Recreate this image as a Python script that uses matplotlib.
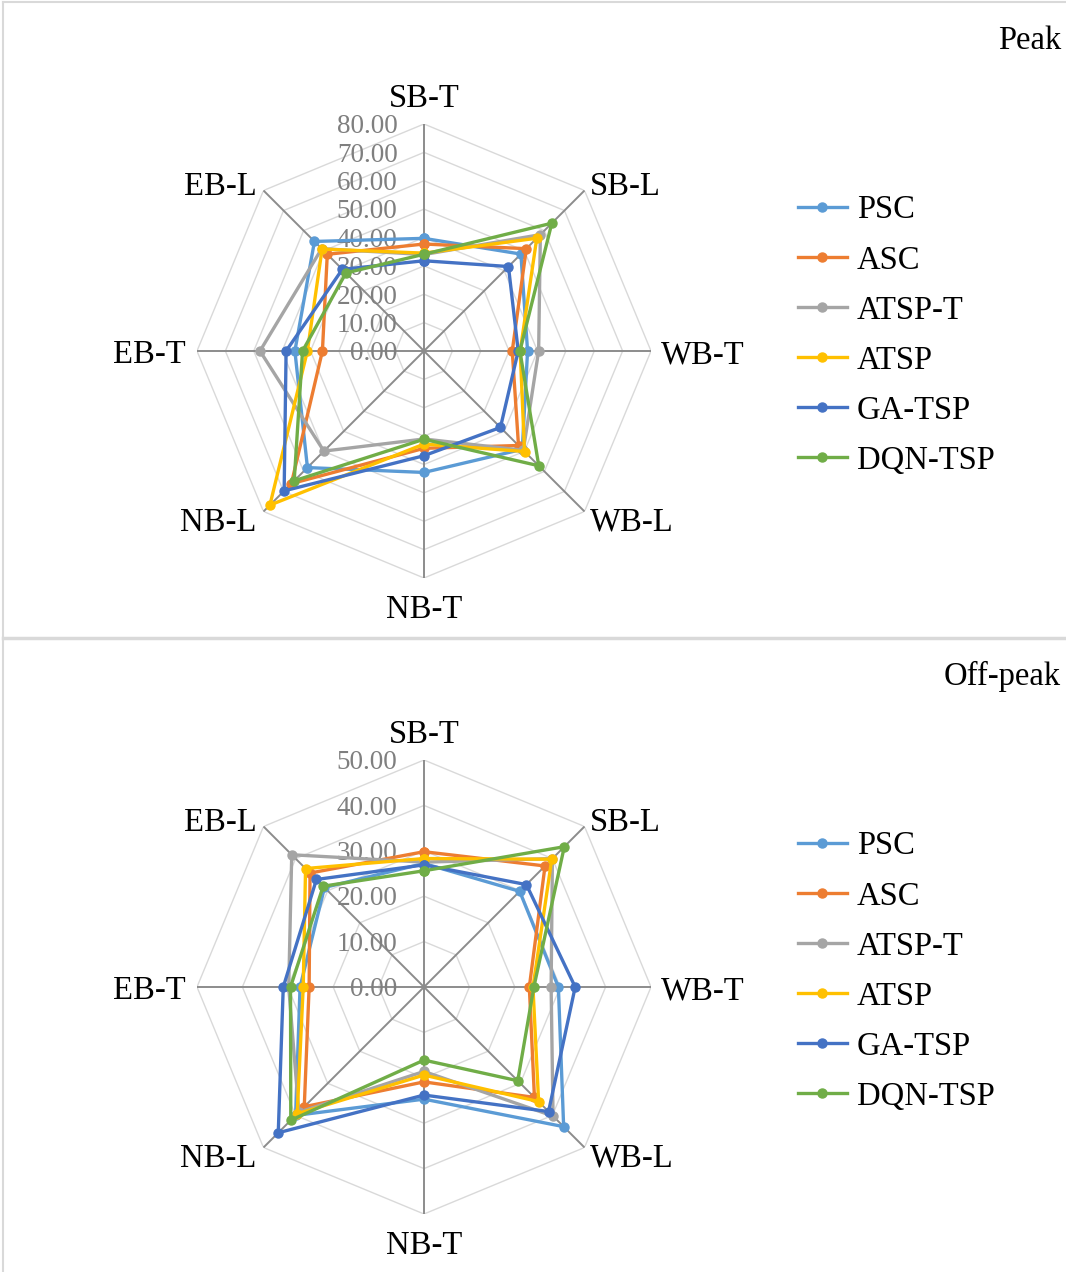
import numpy as np
import matplotlib
matplotlib.use('Agg')
import matplotlib.pyplot as plt
from matplotlib.lines import Line2D

plt.rcParams['font.family'] = ['Liberation Serif', 'DejaVu Serif']

categories = ['SB-T', 'SB-L', 'WB-T', 'WB-L', 'NB-T', 'NB-L', 'EB-T', 'EB-L']
methods = ['PSC', 'ASC', 'ATSP-T', 'ATSP', 'GA-TSP', 'DQN-TSP']
colors = ['#5B9BD5', '#ED7D31', '#A5A5A5', '#FFC000', '#4472C4', '#70AD47']

# peak hour values per approach, in category order
peak_psc = [39.7, 48.3, 36.5, 49.0, 42.8, 58.1, 45.5, 54.6]
peak_asc = [37.7, 51.0, 31.1, 47.1, 34.3, 66.1, 35.8, 48.2]
peak_atsp_t = [34.0, 58.0, 40.4, 49.5, 31.0, 49.9, 57.8, 51.0]
peak_atsp = [34.5, 56.2, 33.9, 50.1, 32.8, 76.8, 41.1, 50.8]
peak_ga = [31.8, 42.1, 33.2, 38.1, 36.9, 69.7, 48.6, 40.7]
peak_dqn = [34.1, 63.7, 33.8, 57.2, 31.1, 64.7, 42.8, 38.9]

# off-peak values
off_psc = [27.2, 29.8, 29.6, 43.5, 24.7, 40.0, 27.3, 31.0]
off_asc = [29.8, 37.7, 23.2, 34.4, 20.9, 37.3, 25.3, 35.5]
off_atsp_t = [27.5, 40.0, 28.0, 40.2, 18.6, 39.0, 29.8, 41.2]
off_atsp = [28.3, 39.8, 24.0, 35.7, 19.4, 39.5, 26.6, 36.9]
off_ga = [26.9, 31.9, 33.3, 38.8, 23.8, 45.4, 31.0, 33.5]
off_dqn = [25.6, 43.7, 24.2, 29.2, 16.1, 41.5, 29.4, 31.4]

peak_ticks = [0, 10, 20, 30, 40, 50, 60, 70, 80]
off_ticks = [0, 10, 20, 30, 40, 50]

W, H = 1066, 1272
fig = plt.figure(figsize=(W / 100, H / 100), dpi=100)

angles = np.linspace(0, 2 * np.pi, len(categories), endpoint=False)
closed = np.append(angles, angles[0])

# label offsets (points) and alignment for each spoke
label_pos = [
    ((0, 18), 'center'),
    ((4, 3), 'left'),
    ((7, -3), 'left'),
    ((4, -8), 'left'),
    ((0, -23), 'center'),
    ((-5, -8), 'right'),
    ((-8, -3), 'right'),
    ((-5, 3), 'right'),
]


def radar(cy, ticks, series, title, title_y):
    r_px = 227
    cx = 424
    ax = fig.add_axes([(cx - r_px) / W, 1 - (cy + r_px) / H, 2 * r_px / W, 2 * r_px / H],
                      projection='polar')
    ax.set_theta_offset(np.pi / 2)
    ax.set_theta_direction(-1)
    rmax = ticks[-1]
    ax.set_ylim(0, rmax)
    ax.grid(False)
    ax.set_xticks([])
    ax.set_yticks([])
    ax.spines['polar'].set_visible(False)
    ax.patch.set_visible(False)

    # octagon rings and spokes
    for t in ticks[1:]:
        ax.plot(closed, [t] * len(closed), color='#D9D9D9', lw=1.0, zorder=1)
    for a in angles:
        ax.plot([a, a], [0, rmax], color='#8C8C8C', lw=1.4, zorder=2)

    for t in ticks:
        ax.annotate(f'{t:.2f}', xy=(0, t), xytext=(-19, -2), textcoords='offset points',
                    ha='right', va='center', fontsize=19.5, color='#7F7F7F', zorder=3)

    for a, name, (off, ha) in zip(angles, categories, label_pos):
        ax.annotate(name, xy=(a, rmax), xytext=off, textcoords='offset points',
                    ha=ha, va='center', fontsize=23.5, color='black',
                    annotation_clip=False)

    for vals, col, name in zip(series, colors, methods):
        v = list(vals) + [vals[0]]
        ax.plot(closed, v, color=col, lw=2.4, marker='o', markersize=6.5,
                label=name, zorder=4, clip_on=False)

    fig.text(1061 / W, 1 - (title_y + 4) / H, title, ha='right', va='center', fontsize=23.5)

    handles = [Line2D([], [], color=c, lw=2.4, marker='o', markersize=6.5) for c in colors]
    fig.legend(handles, methods, loc='upper left',
               bbox_to_anchor=(798 / W, 1 - (cy - 156) / H),
               frameon=False, borderpad=0, borderaxespad=0, fontsize=23.5,
               handlelength=1.5, handletextpad=0.3, labelspacing=0.6)
    return ax


radar(351, peak_ticks, [peak_psc, peak_asc, peak_atsp_t, peak_atsp, peak_ga, peak_dqn],
      'Peak', 37)
radar(987, off_ticks, [off_psc, off_asc, off_atsp_t, off_atsp, off_ga, off_dqn],
      'Off-peak', 672)

# panel borders
border = '#D9D9D9'
fig.add_artist(Line2D([3 / W, 1], [1 - 2 / H, 1 - 2 / H], color=border, lw=1.5))
fig.add_artist(Line2D([3 / W, 3 / W], [0, 1 - 2 / H], color=border, lw=1.5))
fig.add_artist(Line2D([3 / W, 1], [1 - 638 / H, 1 - 638 / H], color=border, lw=2.5))

fig.savefig('out.png', dpi=100, facecolor='white')
plt.close('all')
